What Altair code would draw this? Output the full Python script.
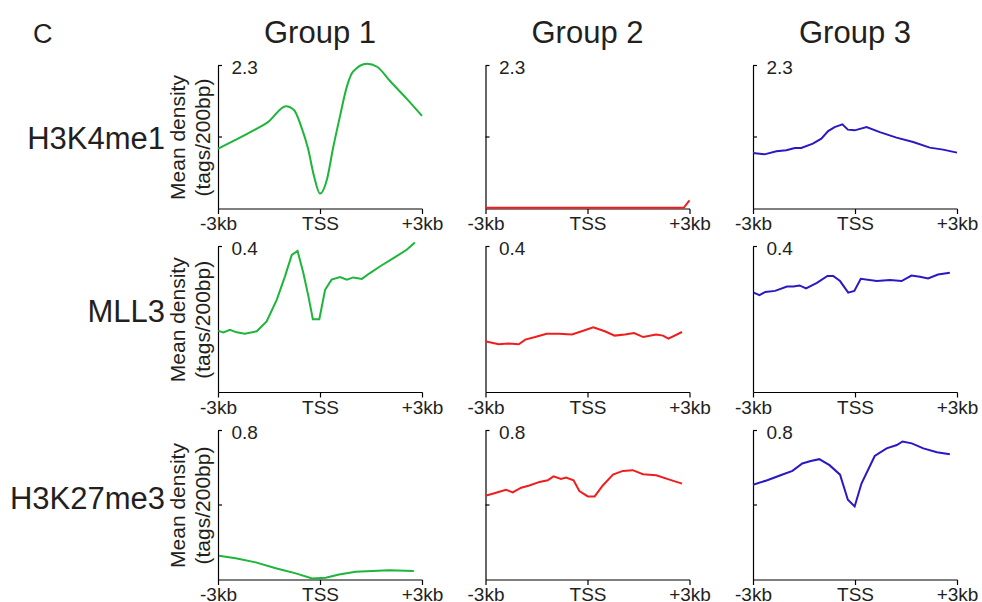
import altair as alt
import pandas as pd

FONT = "Liberation Sans"
INK = "#231f20"

panel_letter = "C"
groups = ["Group 1", "Group 2", "Group 3"]
marks = ["H3K4me1", "MLL3", "H3K27me3"]
y_top = [2.3, 0.4, 0.8]
y_mid_tick = [True, False, True]
group_colors = ["#1db53a", "#f01d1d", "#2b18c4"]
x_tick_values = [-3, 0, 3]
x_tick_labels = ["-3kb", "TSS", "+3kb"]
y_title = ["Mean density", "(tags/200bp)"]

# ---- Group 1 ----
g1_h3k4me1_kb = [-3.0, -2.53, -1.94, -1.53, -1.0, -0.76, -0.56, -0.35, -0.18, 0.0,
                 0.21, 0.38, 0.59, 0.79, 0.97, 1.38, 1.68, 2.06, 2.56, 3.0]
g1_h3k4me1_val = [0.96, 1.09, 1.26, 1.39, 1.645, 1.58, 1.33, 0.96, 0.53, 0.24,
                  0.48, 0.96, 1.49, 1.96, 2.2, 2.33, 2.28, 2.05, 1.76, 1.49]

g1_mll3_kb = [-2.99, -2.84, -2.65, -2.45, -2.21, -1.86, -1.57, -1.27, -1.03, -0.83,
              -0.66, -0.49, -0.34, -0.21, -0.02, 0.15, 0.34, 0.59, 0.79, 0.98,
              1.23, 1.47, 1.76, 2.16, 2.55, 2.79]
g1_mll3_val = [0.168, 0.164, 0.171, 0.164, 0.160, 0.167, 0.194, 0.254, 0.318, 0.377,
               0.388, 0.327, 0.263, 0.200, 0.200, 0.281, 0.309, 0.316, 0.309, 0.315,
               0.311, 0.327, 0.345, 0.368, 0.391, 0.411]

g1_h3k27me3_kb = [-2.97, -2.48, -1.89, -1.30, -0.71, -0.23, 0.17, 0.56, 1.05, 1.54, 2.03, 2.76]
g1_h3k27me3_val = [0.127, 0.114, 0.092, 0.060, 0.033, 0.005, 0.009, 0.027, 0.041, 0.045, 0.049, 0.045]

# ---- Group 2 ----
g2_h3k4me1_kb = [-3.0, -1.5, 0.0, 1.5, 2.83, 3.0]
g2_h3k4me1_val = [0.012, 0.012, 0.012, 0.012, 0.012, 0.13]

g2_mll3_kb = [-2.98, -2.61, -2.32, -2.02, -1.83, -1.54, -1.20, -0.85, -0.46, -0.17,
              0.17, 0.51, 0.80, 1.10, 1.37, 1.64, 2.02, 2.22, 2.38, 2.78]
g2_mll3_val = [0.139, 0.131, 0.133, 0.131, 0.144, 0.151, 0.160, 0.160, 0.158, 0.167,
               0.178, 0.167, 0.155, 0.158, 0.162, 0.151, 0.158, 0.155, 0.147, 0.165]

g2_h3k27me3_kb = [-2.98, -2.79, -2.40, -2.20, -1.95, -1.71, -1.41, -1.17, -1.00, -0.78,
                  -0.63, -0.41, -0.24, 0.01, 0.21, 0.45, 0.75, 1.04, 1.33, 1.63,
                  2.02, 2.41, 2.78]
g2_h3k27me3_val = [0.451, 0.460, 0.482, 0.468, 0.493, 0.505, 0.524, 0.533, 0.554, 0.540,
                   0.547, 0.533, 0.475, 0.446, 0.446, 0.505, 0.563, 0.583, 0.587, 0.565,
                   0.560, 0.536, 0.515]

# ---- Group 3 ----
g3_h3k4me1_kb = [-3.0, -2.66, -2.31, -2.02, -1.77, -1.58, -1.24, -0.99, -0.79, -0.60,
                 -0.37, -0.21, -0.01, 0.34, 0.73, 1.22, 1.71, 2.20, 2.59, 3.0]
g3_h3k4me1_val = [0.892, 0.871, 0.920, 0.936, 0.973, 0.973, 1.043, 1.123, 1.245, 1.310,
                  1.353, 1.268, 1.257, 1.310, 1.229, 1.140, 1.069, 0.979, 0.947, 0.899]

g3_mll3_kb = [-2.98, -2.81, -2.64, -2.35, -2.00, -1.81, -1.63, -1.44, -1.12, -0.81,
              -0.64, -0.44, -0.20, -0.02, 0.17, 0.64, 1.03, 1.37, 1.66, 1.91,
              2.15, 2.44, 2.79]
g3_mll3_val = [0.273, 0.266, 0.275, 0.278, 0.290, 0.290, 0.293, 0.285, 0.300, 0.319,
               0.319, 0.305, 0.273, 0.278, 0.311, 0.305, 0.308, 0.305, 0.320, 0.317,
               0.312, 0.323, 0.328]

g3_h3k27me3_kb = [-3.0, -2.58, -2.19, -1.84, -1.55, -1.30, -1.05, -0.75, -0.44, -0.21,
                  -0.01, 0.19, 0.58, 0.93, 1.23, 1.40, 1.67, 2.01, 2.41, 2.79]
g3_h3k27me3_val = [0.509, 0.533, 0.560, 0.583, 0.623, 0.636, 0.646, 0.614, 0.563, 0.428,
                   0.392, 0.515, 0.663, 0.704, 0.722, 0.741, 0.731, 0.704, 0.683, 0.673]

series = [
    [(g1_h3k4me1_kb, g1_h3k4me1_val), (g2_h3k4me1_kb, g2_h3k4me1_val), (g3_h3k4me1_kb, g3_h3k4me1_val)],
    [(g1_mll3_kb, g1_mll3_val), (g2_mll3_kb, g2_mll3_val), (g3_mll3_kb, g3_mll3_val)],
    [(g1_h3k27me3_kb, g1_h3k27me3_val), (g2_h3k27me3_kb, g2_h3k27me3_val), (g3_h3k27me3_kb, g3_h3k27me3_val)],
]

label_expr = (f"datum.value < -1 ? '{x_tick_labels[0]}' : "
              f"(datum.value > 1 ? '{x_tick_labels[2]}' : '{x_tick_labels[1]}')")

row_heights = [143, 145.5, 149]
row_label_y = [83, 75, 78]
PANEL_W = 204


def text_layer(t, size, align, x, y):
    return alt.Chart(pd.DataFrame({"t": [t]})).mark_text(
        font=FONT, fontSize=size, color=INK, align=align, baseline="alphabetic"
    ).encode(text="t:N", x=alt.value(x), y=alt.value(y))


def panel(r, c):
    kb, val = series[r][c]
    ymax = y_top[r]
    h = row_heights[r]
    df = pd.DataFrame({"kb": kb, "val": val})

    xs = alt.Scale(domain=[-3, 3], nice=False, zero=False)
    ys = alt.Scale(domain=[0, ymax], nice=False, zero=True)
    x_axis = alt.Axis(values=x_tick_values, labelExpr=label_expr, title=None, grid=False,
                      domainColor="black", domainWidth=1.2, tickColor="black", tickWidth=1.2,
                      tickSize=5, labelFont=FONT, labelFontSize=19, labelColor=INK,
                      labelPadding=1, labelFlush=False, labelAngle=0)
    ykw = dict(values=[ymax], format=".1f", ticks=False, grid=False, domainColor="black",
               domainWidth=1.2, labelAlign="left", labelBaseline="middle", labelPadding=-13,
               labelOffset=2, labelFont=FONT, labelFontSize=19, labelColor=INK)
    if c == 0:
        ykw.update(title=y_title, titleFont=FONT, titleFontSize=21, titleFontWeight="normal",
                   titleColor=INK, titleX=-30, titleLineHeight=25)
    else:
        ykw.update(title=None)
    y_axis = alt.Axis(**ykw)

    line = alt.Chart(df).mark_line(
        color=group_colors[c], strokeWidth=2,
        interpolate="monotone" if (r == 0 and c == 0) else "linear",
    ).encode(
        x=alt.X("kb:Q", scale=xs, axis=x_axis),
        y=alt.Y("val:Q", scale=ys, axis=y_axis),
    )

    tick_vals = [ymax / 2, ymax] if y_mid_tick[r] else [ymax]
    tdf = pd.DataFrame({"val": tick_vals})
    ticks = alt.Chart(tdf).mark_rule(color="black", strokeWidth=1.2).encode(
        y=alt.Y("val:Q", scale=ys, axis=y_axis),
        x=alt.value(0), x2=alt.value(4),
    )

    layers = [ticks, line]
    if c == 0:
        layers.append(text_layer(marks[r], 31, "right", -53, row_label_y[r]))
    if r == 0:
        layers.append(text_layer(groups[c], 31, "center", PANEL_W / 2, -22.5))
        if c == 0:
            layers.append(text_layer(panel_letter, 27, "left", -185, -22.5))

    return alt.layer(*layers).properties(width=PANEL_W, height=h)


panels = [panel(r, c) for r in range(3) for c in range(3)]

chart = alt.concat(
    *panels, columns=3, spacing={"row": 38, "column": 63.5}, bounds="flush",
).properties(
    autosize=alt.AutoSizeParams(type="none"),
    padding={"left": 218, "top": 65.5, "right": 764, "bottom": 536.5},
    background="white",
).configure_view(stroke=None)

chart.save("out.html", embed_options={"renderer": "svg", "actions": False})
